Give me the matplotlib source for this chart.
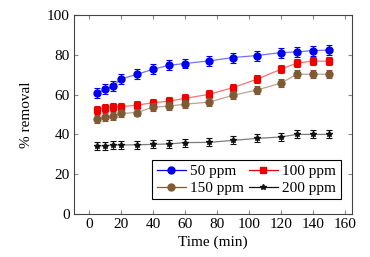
import matplotlib.pyplot as plt
from matplotlib.lines import Line2D
import numpy as np

plt.rcParams['font.family'] = ['Liberation Serif', 'DejaVu Serif']
plt.rcParams['font.size'] = 11

# time points (min)
t = [5, 10, 15, 20, 30, 40, 50, 60, 75, 90, 105, 120, 130, 140, 150]

# % removal for each concentration
r50 = [60.6, 62.6, 64.3, 67.8, 70.2, 72.7, 74.7, 75.6, 76.9, 78.6, 79.6, 81.1, 81.4, 82.1, 82.3]
r100 = [52.2, 53.4, 53.7, 53.9, 54.7, 55.9, 56.7, 58.1, 60.1, 63.5, 67.7, 72.7, 75.8, 76.8, 76.8]
r150 = [47.8, 48.6, 49.3, 50.5, 51.0, 53.7, 54.2, 55.2, 56.2, 59.6, 62.3, 65.7, 70.2, 70.2, 70.2]
r200 = [34.3, 34.3, 34.7, 34.7, 34.8, 35.0, 35.2, 35.9, 36.0, 37.0, 38.0, 38.7, 40.0, 40.0, 40.0]

# error bar half-widths
e50 = [2.5] * 15
e100 = [2.0] * 15
e150 = [2.0] * 15
e200 = [2.0] * 15

labels = ['50 ppm', '100 ppm', '150 ppm', '200 ppm']
colors = ['#0000ee', '#ee0000', '#7f5a35', '#111111']
markers = ['o', 's', 'o', '*']

fig = plt.figure(figsize=(3.7, 2.57), dpi=100)
ax = fig.add_axes([0.2, 0.167, 0.751, 0.775])

series = [(r50, e50), (r100, e100), (r150, e150), (r200, e200)]
handles = []
for (y, e), lab, c, m in zip(series, labels, colors, markers):
    ms = 5 if m != '*' else 4
    ax.errorbar(t, y, yerr=e, fmt='none', ecolor=c, elinewidth=0.8, capsize=2.5, capthick=0.8)
    ax.plot(t, y, color=c, lw=0.9, alpha=0.55)
    ax.plot(t, y, color=c, lw=0, marker=m, markersize=ms)
    handles.append(Line2D([], [], color=c, lw=0.9, marker=m, markersize=ms, label=lab))

ax.set_xlim(-9.5, 164.5)
ax.set_ylim(0, 100)
ax.set_xticks(np.arange(0, 161, 20))
ax.set_yticks(np.arange(0, 101, 20))
ax.tick_params(direction='in', top=True, right=True, length=3, color='#888888', pad=3)
for s in ax.spines.values():
    s.set_color('#444444')
    s.set_linewidth(0.8)

ax.set_xlabel('Time (min)', labelpad=3)
ax.set_ylabel('% removal', labelpad=10)

# matplotlib fills columns first, so order for rows: 50,100 / 150,200
order = [0, 2, 1, 3]
leg = ax.legend([handles[i] for i in order], [labels[i] for i in order], ncol=2,
                loc='lower right', bbox_to_anchor=(0.988, 0.035), frameon=True,
                fancybox=False, edgecolor='black', columnspacing=0.3, handlelength=1.9,
                handletextpad=0.3, labelspacing=0.2, borderpad=0.3, framealpha=1)
leg.get_frame().set_linewidth(0.8)

fig.savefig('out.png', dpi=100)
